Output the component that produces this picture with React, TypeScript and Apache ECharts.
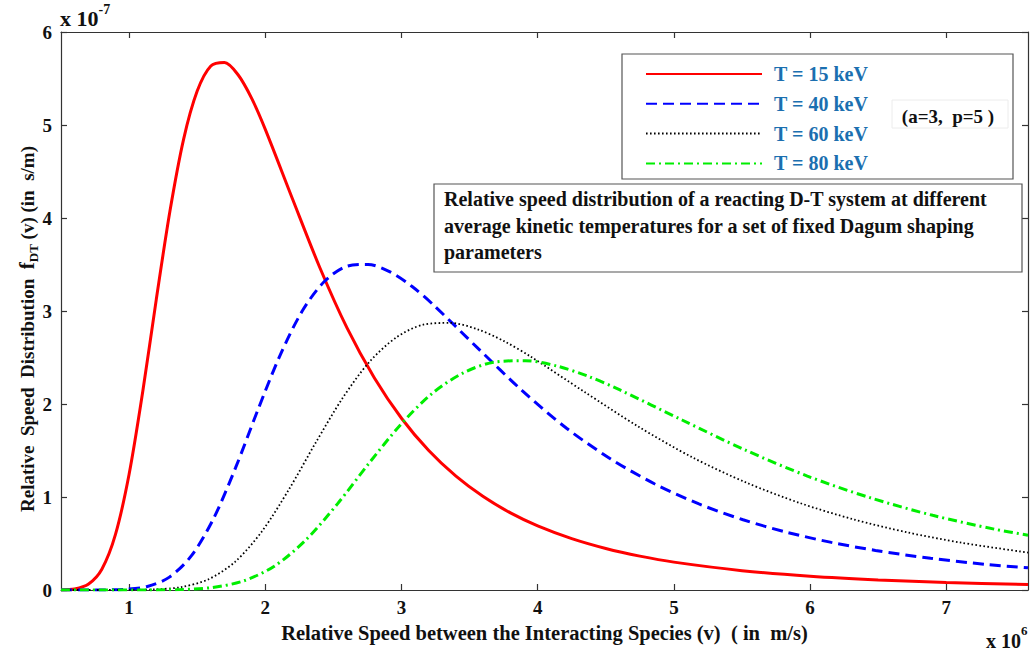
import React, { useEffect, useRef } from "react";
import * as echarts from "echarts";

// ---- data (speed in 10^6 m/s, distribution in 10^-7 s/m) ----
const seriesNames = ["T = 15 keV", "T = 40 keV", "T = 60 keV", "T = 80 keV"];

const redX = [0.5, 0.6, 0.7, 0.8, 0.9, 1.0, 1.1, 1.2, 1.3, 1.4, 1.5, 1.6, 1.7, 1.8, 1.9, 2.0, 2.2, 2.4, 2.6, 2.8, 3.0, 3.2, 3.4, 3.6, 3.8, 4.0, 4.25, 4.5, 4.75, 5.0, 5.5, 6.0, 6.5, 7.0, 7.6];
const redY = [0.0013, 0.0114, 0.0615, 0.224, 0.5975, 1.244, 2.131, 3.128, 4.075, 4.846, 5.365, 5.635, 5.672, 5.54, 5.286, 4.953, 4.204, 3.468, 2.818, 2.283, 1.847, 1.4995, 1.2234, 1.0041, 0.8292, 0.6893, 0.552, 0.4463, 0.3642, 0.2998, 0.208, 0.1485, 0.1087, 0.0812, 0.0588];

const blueX = [0.5, 0.81, 0.972, 1.134, 1.296, 1.458, 1.62, 1.782, 1.944, 2.106, 2.268, 2.43, 2.592, 2.754, 2.916, 3.078, 3.24, 3.564, 3.888, 4.212, 4.536, 4.86, 5.184, 5.508, 5.832, 6.156, 6.48, 6.885, 7.29, 7.6];
const blueY = [0, 0.0008, 0.007, 0.038, 0.1383, 0.3688, 0.7679, 1.3154, 1.9309, 2.5154, 2.9914, 3.3117, 3.4784, 3.5012, 3.4198, 3.263, 3.0574, 2.5951, 2.1407, 1.7395, 1.4093, 1.1401, 0.9256, 0.7552, 0.6198, 0.5119, 0.4255, 0.3407, 0.2755, 0.238];

const blackX = [0.5, 0.9875, 1.185, 1.3825, 1.58, 1.7775, 1.975, 2.1725, 2.37, 2.5675, 2.765, 2.9625, 3.16, 3.3575, 3.555, 3.7525, 3.95, 4.345, 4.74, 5.135, 5.53, 5.925, 6.32, 6.715, 7.11, 7.6];
const blackY = [0, 0.0007, 0.0058, 0.0311, 0.1134, 0.3025, 0.6299, 1.079, 1.5838, 2.0633, 2.4537, 2.7165, 2.8532, 2.8719, 2.8051, 2.6765, 2.5078, 2.1286, 1.7559, 1.4268, 1.1559, 0.9352, 0.7592, 0.6194, 0.5084, 0.4028];

const greenX = [0.5, 1.15, 1.38, 1.61, 1.84, 2.07, 2.3, 2.53, 2.76, 2.99, 3.22, 3.45, 3.68, 3.91, 4.14, 4.37, 4.6, 5.06, 5.52, 5.98, 6.44, 6.9, 7.36, 7.6];
const greenY = [0, 0.0006, 0.005, 0.0267, 0.0974, 0.2598, 0.5409, 0.9265, 1.36, 1.7717, 2.107, 2.3326, 2.45, 2.4661, 2.4087, 2.2983, 2.1535, 1.8278, 1.5078, 1.2252, 0.9926, 0.803, 0.652, 0.5895];

const xTickValues = [1, 2, 3, 4, 5, 6, 7];
const xMin = 0.5;
const xMax = 7.6;
const yMin = 0;
const yMax = 6;
const yInterval = 1;

const xTitle = "Relative Speed between the Interacting Species (v)  ( in  m/s)";
const boxText = [
  "Relative speed distribution of a reacting D-T system at different",
  "average kinetic temperatures for a set of fixed Dagum shaping",
  "parameters",
];
const paramText = "(a=3,  p=5 )";

const FONT = "'Liberation Serif', 'Times New Roman', serif";
const AXIS_COLOR = "#333";

const pairs = (xs: number[], ys: number[]) => xs.map((x, i) => [x, ys[i]]);

export default function App() {
  const ref = useRef<HTMLDivElement>(null);

  useEffect(() => {
    if (!ref.current) return;
    const chart = echarts.init(ref.current, undefined, { renderer: "svg" });

    const lineSeries = (name: string, data: number[][], color: string, width: number, type: any) => ({
      name,
      type: "line",
      data,
      smooth: 0.3,
      symbol: "none",
      xAxisIndex: 0,
      yAxisIndex: 0,
      itemStyle: { color },
      lineStyle: { color, width, type },
      z: 3,
    });

    const option: any = {
      animation: false,
      backgroundColor: "#ffffff",
      textStyle: { fontFamily: FONT },
      grid: { left: 61, right: 5, top: 32, bottom: 61, containLabel: false },
      xAxis: [
        {
          type: "value",
          min: xMin,
          max: xMax,
          position: "bottom",
          axisLine: { show: true, onZero: false, lineStyle: { color: AXIS_COLOR, width: 1.2 } },
          axisTick: { show: true, inside: true, length: 6, customValues: xTickValues, lineStyle: { color: AXIS_COLOR, width: 1.2 } },
          axisLabel: {
            customValues: xTickValues,
            fontFamily: FONT,
            fontWeight: "bold",
            fontSize: 19,
            color: "#111",
            margin: 8,
          },
          splitLine: { show: false },
          name: xTitle,
          nameLocation: "middle",
          nameGap: 32,
          nameTextStyle: { fontFamily: FONT, fontWeight: "bold", fontSize: 20.5, color: "#111" },
        },
        {
          type: "value",
          min: xMin,
          max: xMax,
          position: "top",
          axisLine: { show: true, onZero: false, lineStyle: { color: AXIS_COLOR, width: 1.2 } },
          axisTick: { show: true, inside: true, length: 6, customValues: xTickValues, lineStyle: { color: AXIS_COLOR, width: 1.2 } },
          axisLabel: { show: false },
          splitLine: { show: false },
        },
      ],
      yAxis: [
        {
          type: "value",
          min: yMin,
          max: yMax,
          interval: yInterval,
          position: "left",
          axisLine: { show: true, onZero: false, lineStyle: { color: AXIS_COLOR, width: 1.2 } },
          axisTick: { show: true, inside: true, length: 6, lineStyle: { color: AXIS_COLOR, width: 1.2 } },
          axisLabel: { fontFamily: FONT, fontWeight: "bold", fontSize: 19, color: "#111", margin: 9 },
          splitLine: { show: false },
        },
        {
          type: "value",
          min: yMin,
          max: yMax,
          interval: yInterval,
          position: "right",
          axisLine: { show: true, onZero: false, lineStyle: { color: AXIS_COLOR, width: 1.2 } },
          axisTick: { show: true, inside: true, length: 6, lineStyle: { color: AXIS_COLOR, width: 1.2 } },
          axisLabel: { show: false },
          splitLine: { show: false },
        },
      ],
      legend: {
        data: seriesNames,
        orient: "vertical",
        left: 645,
        top: 64,
        padding: 0,
        itemWidth: 116,
        itemHeight: 18,
        itemGap: 9.8,
        itemStyle: { opacity: 0 },
        textStyle: {
          fontFamily: FONT,
          fontWeight: "bold",
          fontSize: 20,
          color: "#1b6fb0",
          padding: [0, 0, 0, 7],
        },
        selectedMode: false,
        z: 20,
      },
      graphic: [
        {
          type: "rect",
          shape: { x: 622, y: 54, width: 391, height: 125 },
          style: { fill: "#ffffff", stroke: "#555", lineWidth: 1.2 },
          z: 10,
        },
        {
          type: "rect",
          shape: { x: 892, y: 100, width: 116, height: 28 },
          style: { fill: "#ffffff", stroke: "#ececec", lineWidth: 1 },
          z: 11,
        },
        {
          type: "text",
          x: 948,
          y: 116,
          style: {
            text: paramText,
            fontFamily: FONT,
            fontWeight: "bold",
            fontSize: 19,
            fill: "#111",
            textAlign: "center",
            textVerticalAlign: "middle",
          },
          z: 12,
        },
        {
          type: "rect",
          shape: { x: 434, y: 184, width: 588, height: 88 },
          style: { fill: "#ffffff", stroke: "#555", lineWidth: 1.2 },
          z: 10,
        },
        {
          type: "text",
          x: 444,
          y: 186,
          style: {
            text: boxText.join("\n"),
            fontFamily: FONT,
            fontWeight: "bold",
            fontSize: 20,
            lineHeight: 26.5,
            fill: "#111",
            textAlign: "left",
            textVerticalAlign: "top",
          },
          z: 12,
        },
        {
          type: "text",
          x: 60,
          y: 2,
          style: {
            text: "{b|x 10}{s|-7}",
            rich: {
              b: { fontFamily: FONT, fontWeight: "bold", fontSize: 22, fill: "#111", verticalAlign: "bottom", lineHeight: 27 },
              s: { fontFamily: FONT, fontWeight: "bold", fontSize: 14, fill: "#111", verticalAlign: "top", lineHeight: 27 },
            },
            textAlign: "left",
            textVerticalAlign: "top",
          },
          z: 12,
        },
        {
          type: "text",
          x: 986,
          y: 624,
          style: {
            text: "{b|x 10}{s|6}",
            rich: {
              b: { fontFamily: FONT, fontWeight: "bold", fontSize: 20, fill: "#111", verticalAlign: "bottom", lineHeight: 27 },
              s: { fontFamily: FONT, fontWeight: "bold", fontSize: 13, fill: "#111", verticalAlign: "top", lineHeight: 27 },
            },
            textAlign: "left",
            textVerticalAlign: "top",
          },
          z: 12,
        },
        {
          type: "text",
          x: 27,
          y: 329,
          rotation: Math.PI / 2,
          style: {
            text: "{n|Relative  Speed  Distribution  }{f|f}{s|DT}{n| (v) (in  s/m)}",
            rich: {
              n: { fontFamily: FONT, fontWeight: "bold", fontSize: 19, fill: "#111", verticalAlign: "middle", lineHeight: 26 },
              f: { fontFamily: FONT, fontWeight: "bold", fontSize: 21, fill: "#111", verticalAlign: "middle", lineHeight: 26 },
              s: { fontFamily: FONT, fontWeight: "bold", fontSize: 13, fill: "#111", verticalAlign: "bottom", lineHeight: 26 },
            },
            textAlign: "center",
            textVerticalAlign: "middle",
          },
          z: 12,
        },
      ],
      series: [
        lineSeries(seriesNames[0], pairs(redX, redY), "#ff0000", 3, "solid"),
        lineSeries(seriesNames[1], pairs(blueX, blueY), "#0000ff", 3, [11, 6]),
        lineSeries(seriesNames[2], pairs(blackX, blackY), "#000000", 1.8, [1.6, 2.4]),
        lineSeries(seriesNames[3], pairs(greenX, greenY), "#00ee00", 3, [9, 4, 2, 4]),
      ],
    };

    chart.setOption(option);
    return () => chart.dispose();
  }, []);

  return (
    <div
      ref={ref}
      style={{ position: "fixed", left: 0, top: 0, width: 1033, height: 651, background: "#fff" }}
    />
  );
}
